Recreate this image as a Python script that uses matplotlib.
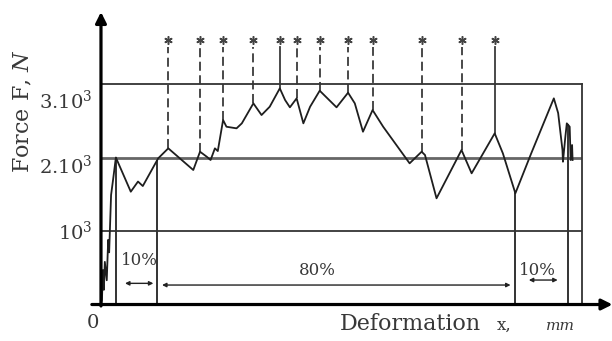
import matplotlib
matplotlib.use("Agg")
import matplotlib.pyplot as plt
import numpy as np
from matplotlib.transforms import ScaledTranslation

plt.rcParams['font.family'] = ['DejaVu Serif']
plt.rcParams['mathtext.fontset'] = 'dejavuserif'

# Force-deformation curve (x as % of total deformation, force in N)
deform = [0.0, 0.2, 0.4, 0.6, 0.8, 1.2, 1.5, 1.7, 2.1, 2.5, 3.1,
          6.2, 7.7, 8.7, 11.9, 14.0, 19.2, 20.6, 22.0, 22.8, 23.7, 24.3,
          25.4, 26.1, 28.2, 29.3, 31.7, 33.4, 35.1, 37.2, 38.3, 39.3, 40.7,
          42.1, 43.5, 45.5, 49.0, 51.4, 52.8, 53.8, 54.5, 56.5, 58.7, 64.2,
          66.7, 67.4, 69.8, 75.0, 77.1, 81.9, 83.6, 86.2, 89.5, 94.2, 95.1,
          96.0, 96.1, 96.6, 96.9, 97.5, 97.7, 98.0, 98.1]
force = [0, 60, 470, 200, 580, 330, 880, 710, 1490, 1690, 2000,
         1535, 1673, 1612, 1989, 2125, 1830, 2079, 2011, 1966, 2125, 2088,
         2510, 2419, 2397, 2465, 2737, 2578, 2691, 2941, 2782, 2683, 2805,
         2465, 2691, 2909, 2683, 2882, 2737, 2510, 2351, 2646, 2419, 1921,
         2079, 2034, 1445, 2102, 1785, 2329, 2057, 1513, 2057, 2805, 2605,
         2102, 1943, 2283, 2465, 2419, 1966, 2170, 1966]

# Marked peaks (asterisks) and their guide line styles
star_x = [14.0, 20.6, 25.4, 31.7, 37.2, 40.7, 45.5, 51.4, 56.5, 66.7, 75.0, 81.9]
star_solid = [False, False, False, False, True, False, False, False, False, False, False, True]

# Solid vertical boundaries from the x-axis up to the curve
boundary_x = [3.1, 11.6, 86.2, 97.2]

# Y ticks
ytick_vals = [1000, 2000, 3000]
ytick_labels = [r'$10^3$', r'$2.10^3$', r'$3.10^3$']

# Percentage segments
seg_labels = ['10%', '80%', '10%']
seg_start = [5.0, 12.7, 89.0]
seg_end = [10.9, 85.2, 95.0]

fig = plt.figure(figsize=(6.12, 3.41), dpi=100)
ax = fig.add_axes([0.165, 0.107, 0.7855, 0.6466])
ax.set_xlim(0, 100)
ax.set_ylim(0, 3000)

ink = '#1e1e1e'
txt = '#383838'
for s in ['left', 'bottom']:
    ax.spines[s].set_visible(False)
for s in ['top', 'right']:
    ax.spines[s].set_linewidth(1.3)
    ax.spines[s].set_color('#333333')

ax.axhline(1000, color='#222222', lw=1.2)
ax.axhline(2000, color='#666666', lw=2.0)

# curve
ax.plot(deform, force, color=ink, lw=1.3, clip_on=False, zorder=3)

# boundaries
for bx in boundary_x:
    top = np.interp(bx, deform, force)
    ax.plot([bx, bx], [0, top], color='#333333', lw=1.4, zorder=2)

# asterisk guide lines
star_y = 3600
for sx, solid in zip(star_x, star_solid):
    py = np.interp(sx, deform, force)
    ax.plot([sx, sx], [py, star_y - 100], color='#3a3a3a', lw=1.3,
            ls='-' if solid else (0, (5, 2.5)), clip_on=False, zorder=2)
ax.plot(star_x, [star_y] * len(star_x), ls='none', marker=(6, 2, 0), ms=6,
        mew=1.1, color='#444444', clip_on=False)

# axes arrows
ax.annotate('', xy=(0, 3980), xytext=(0, -20),
            arrowprops=dict(arrowstyle='-|>', lw=2.3, color='black',
                            mutation_scale=16, shrinkA=0, shrinkB=0),
            annotation_clip=False)
ax.annotate('', xy=(106.4, 0), xytext=(-1.9, 0),
            arrowprops=dict(arrowstyle='-|>', lw=2.3, color='black',
                            mutation_scale=16, shrinkA=0, shrinkB=0),
            annotation_clip=False)

# y ticks
ax.set_xticks([])
ax.set_yticks(ytick_vals)
ax.set_yticklabels(ytick_labels, fontsize=14, color=txt)
ax.tick_params(axis='y', length=0, pad=6)
offsets_px = [-1, 7, 15]
for lab, d in zip(ax.get_yticklabels(), offsets_px):
    lab.set_transform(lab.get_transform() + ScaledTranslation(0, -d / 100, fig.dpi_scale_trans))

# percentage annotations
label_pos = [(7.9, 605), (44.9, 469), (90.7, 469)]
arrow_y = [288, 265, 333]
for lab, x0, x1, (tx, ty), ay in zip(seg_labels, seg_start, seg_end, label_pos, arrow_y):
    ax.text(tx, ty, lab, ha='center', va='center', fontsize=12, color=txt)
    ax.annotate('', xy=(x1, ay), xytext=(x0, ay),
                arrowprops=dict(arrowstyle='<|-|>', lw=1.0, color='#222222',
                                mutation_scale=6, shrinkA=0, shrinkB=0))

# axis labels
ax.text(-1.6, -258, '0', ha='center', va='center', fontsize=14, color=txt, clip_on=False)
ax.text(49.7, -347, 'Deformation', ha='left', va='baseline', fontsize=16, color=txt, clip_on=False)
ax.text(82.3, -347, 'x,', ha='left', va='baseline', fontsize=12, color=txt, clip_on=False)
ax.text(92.5, -347, 'mm', ha='left', va='baseline', fontsize=11, style='italic', color=txt, clip_on=False)
fig.text(23 / 612, 1 - 111 / 341, r'Force F, $N$', rotation=90, ha='center', va='center',
         fontsize=16, color=txt)

fig.savefig('out.png', dpi=100)
